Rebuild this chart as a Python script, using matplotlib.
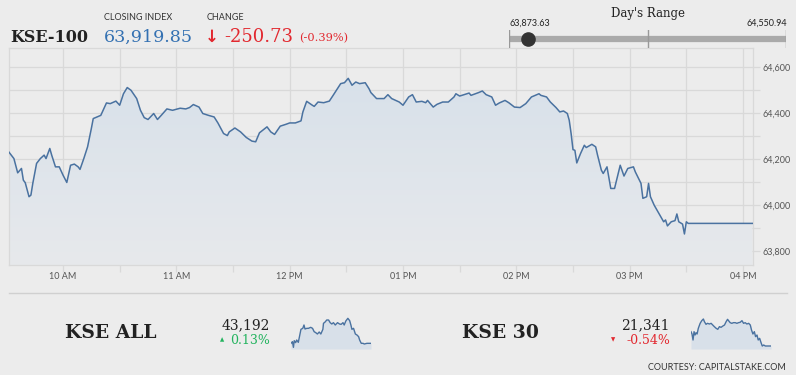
import matplotlib
matplotlib.use('Agg')
import matplotlib.pyplot as plt
from matplotlib.colors import LinearSegmentedColormap
import numpy as np

# KSE-100 intraday (minutes after 09:30, index level)
minutes = [1, 4, 6, 8, 9, 10, 12, 13, 14, 16, 18, 20, 21, 23, 24, 26, 28, 30, 32, 34,
           36, 38, 39, 41, 43, 45, 46, 50, 53, 55, 58, 60, 62, 64, 66, 69, 71, 73, 75, 78,
           80, 82, 85, 88, 92, 95, 97, 99, 102, 104, 107, 110, 112, 115, 117, 118, 121, 124, 127, 130,
           132, 134, 138, 140, 142, 145, 148, 150, 153, 156, 157, 159, 162, 163, 165, 168, 171, 173, 177, 179,
           181, 183, 185, 187, 190, 192, 193, 196, 200, 202, 204, 207, 208, 210, 213, 215, 217, 220, 222, 223,
           226, 228, 231, 234, 237, 238, 240, 245, 246, 250, 252, 254, 257, 259, 261, 264, 266, 269, 272, 275,
           278, 282, 283, 286, 288, 291, 293, 295, 297, 298, 299, 300, 301, 302, 304, 306, 307, 310, 312, 313,
           315, 316, 318, 320, 322, 325, 327, 329, 332, 333, 336, 337, 339, 340, 341, 343, 346, 348, 349, 350,
           352, 354, 355, 356, 358, 359, 360, 361, 395]
index_values = [64234, 64202, 64140, 64159, 64108, 64097, 64036, 64043, 64094, 64181, 64202, 64217, 64202, 64246, 64217, 64166, 64166, 64130, 64098, 64173,
                64178, 64166, 64155, 64202, 64253, 64333, 64376, 64390, 64444, 64441, 64452, 64434, 64484, 64511, 64499, 64463, 64412, 64380, 64372, 64398,
                64372, 64390, 64418, 64412, 64421, 64418, 64424, 64437, 64426, 64398, 64390, 64383, 64357, 64311, 64302, 64318, 64335, 64318, 64294, 64278,
                64275, 64314, 64340, 64318, 64307, 64343, 64351, 64357, 64357, 64366, 64405, 64451, 64434, 64429, 64448, 64445, 64452, 64477, 64528, 64532,
                64551, 64521, 64535, 64528, 64532, 64506, 64489, 64463, 64463, 64480, 64463, 64452, 64448, 64434, 64470, 64480, 64448, 64451, 64445, 64455,
                64426, 64438, 64448, 64448, 64470, 64484, 64474, 64487, 64477, 64489, 64496, 64480, 64470, 64434, 64444, 64455, 64445, 64426, 64424, 64441,
                64470, 64484, 64477, 64470, 64448, 64424, 64405, 64409, 64398, 64369, 64311, 64241, 64238, 64183, 64224, 64260, 64250, 64264, 64253, 64217,
                64152, 64137, 64166, 64072, 64072, 64173, 64126, 64159, 64166, 64144, 64094, 64029, 64036, 64094, 64036, 63999, 63956, 63927, 63935, 63909,
                63927, 63932, 63961, 63927, 63917, 63874, 63927, 63920, 63920]

hour_ticks = [30, 90, 150, 210, 270, 330, 390]
hour_labels = ['10 AM', '11 AM', '12 PM', '01 PM', '02 PM', '03 PM', '04 PM']
level_ticks = [63800, 64000, 64200, 64400, 64600]

closing_index = 63919.85
change = -250.73
change_pct = -0.39
day_low = 63873.63
day_high = 64550.94

# sparklines (minutes after 09:30, relative height)
kse_all_min = [0, 7, 12, 16, 23, 28, 36, 45, 49, 58, 64, 69, 78, 86, 97, 106, 114, 122, 130, 139,
               147, 157, 160, 168, 176, 185, 193, 201, 209, 218, 229, 239, 247, 256, 262, 270, 280, 289, 295, 300,
               308, 317, 325, 333, 338, 346, 355, 361, 374, 394]
kse_all_lvl = [20, 25, 8, 28, 22, 30, 23, 50, 62, 65, 75, 63, 65, 65, 68, 65, 55, 52, 48, 54,
               48, 62, 80, 84, 90, 90, 82, 78, 82, 75, 82, 78, 77, 82, 75, 87, 95, 88, 75, 62,
               65, 48, 45, 40, 30, 20, 20, 18, 20, 20]
kse30_min = [0, 5, 10, 15, 20, 25, 30, 36, 45, 53, 61, 66, 74, 81, 91, 99, 107, 115, 124, 132,
             140, 148, 157, 165, 173, 180, 185, 193, 201, 209, 218, 226, 234, 242, 251, 259, 267, 275, 284, 292,
             298, 305, 312, 318, 325, 331, 338, 345, 351, 358, 366, 383, 394]
kse30_lvl = [55, 48, 30, 55, 45, 52, 48, 65, 80, 88, 93, 85, 77, 80, 78, 80, 75, 70, 65, 62,
             70, 68, 72, 75, 85, 92, 88, 82, 80, 82, 82, 80, 82, 83, 88, 80, 82, 78, 80, 75,
             60, 48, 55, 40, 45, 30, 35, 22, 12, 15, 12, 12, 12]

BG = '#ececec'
GRID = '#d9d9d9'
LINE = '#4a72a0'
TICK = '#555555'
BLUE = '#3471b2'
RED = '#e2282f'
GREEN = '#22b35e'
DARK = '#222222'
SERIF = 'DejaVu Serif'
SANS = 'Lato'

W, H = 796, 375
fig = plt.figure(figsize=(W / 100, H / 100), dpi=100, facecolor=BG)


def px_axes(left, top, right, bottom):
    return fig.add_axes([left / W, 1 - bottom / H, (right - left) / W, (bottom - top) / H])


# overlay for header / footer texts (pixel coordinates)
ov = px_axes(0, 0, W, H)
ov.set_xlim(0, W)
ov.set_ylim(H, 0)
ov.axis('off')

# ---- main chart ----
ax = px_axes(9, 48, 753, 265)
ax.set_facecolor(BG)
ymin, ymax = 63739, 64683
ax.set_xlim(minutes[0] + 0.4, minutes[-1] + 0.3)
ax.set_ylim(ymin, ymax)

fill = ax.fill_between(minutes, index_values, ymin, facecolor='none', edgecolor='none')
grad_cmap = LinearSegmentedColormap.from_list('g', ['#e7e9ec', '#d8e1ea'])
grad = np.linspace(0, 1, 256).reshape(-1, 1)
im = ax.imshow(grad, extent=[minutes[0], minutes[-1], ymin, max(index_values)],
               origin='lower', aspect='auto', cmap=grad_cmap, zorder=1)
im.set_clip_path(fill.get_paths()[0], transform=ax.transData)
ax.plot(minutes, index_values, color=LINE, lw=1.1, zorder=3)

ax.set_xticks(hour_ticks)
ax.set_xticklabels(hour_labels)
ax.set_xticks(list(range(60, 391, 60)), minor=True)
ax.set_yticks(level_ticks)
ax.set_yticklabels([f'{v:,}' for v in level_ticks])
ax.set_yticks(list(range(63900, 64700, 200)), minor=True)
ax.yaxis.tick_right()
ax.grid(True, which='both', color=GRID, lw=0.9, zorder=0)
ax.set_axisbelow(True)
ax.tick_params(axis='both', which='both', color=GRID, length=5, width=0.9,
               labelsize=6.5, labelcolor=TICK)
ax.tick_params(axis='x', which='major', pad=0)
ax.tick_params(axis='y', which='both', pad=2)
for lab in ax.get_xticklabels() + ax.get_yticklabels():
    lab.set_fontfamily(SANS)
for sp in ax.spines.values():
    sp.set_color(GRID)
    sp.set_linewidth(0.9)

# ---- header ----
ov.text(10, 37, 'KSE-100', fontsize=11.5, fontweight='bold', family=SERIF,
        color=DARK, va='center', ha='left')
ov.text(104, 18, 'CLOSING INDEX', fontsize=6.5, family=SANS, color='#333333', va='center')
ov.text(104, 37, f'{closing_index:,.2f}', fontsize=12.6, family=SERIF, color=BLUE, va='center')
ov.text(207, 18, 'CHANGE', fontsize=6.5, family=SANS, color='#333333', va='center')
ov.text(205, 37, '\u2193', fontsize=12, family='DejaVu Sans', fontweight='bold', color=RED, va='center')
ov.text(224, 37, f'{change:.2f}', fontsize=13, family=SERIF, color=RED, va='center')
ov.text(299, 38, f'({change_pct:.2f}%)', fontsize=8.2, family=SERIF, color=RED, va='center')

# day's range
ov.text(648, 13, "Day's Range", fontsize=8.5, family=SERIF, color=DARK, ha='center', va='center')
ov.text(509, 23, f'{day_low:,.2f}', fontsize=6.5, family=SANS, color=DARK, ha='left', va='center')
ov.text(787, 23, f'{day_high:,.2f}', fontsize=6.5, family=SANS, color=DARK, ha='right', va='center')
rng = px_axes(509, 30, 786, 48)
rng.set_xlim(day_low, day_high)
rng.set_ylim(0, 1)
rng.axis('off')
rng.plot([day_low, day_high], [0.5, 0.5], color='#aaaaaa', lw=4.5, solid_capstyle='butt', zorder=1)
mid = (day_low + day_high) / 2
for v in [day_low, mid, day_high]:
    rng.plot([v, v], [0, 1.05], color='#999999', lw=1, zorder=2)
rng.plot([closing_index], [0.5], 'o', ms=9.5, color='#333333', zorder=3, clip_on=False)

# ---- footer ----
ov.plot([9, 787], [293, 293], color='#d0d0d0', lw=1)


def index_block(name, name_x, value, pct, val_right, arrow_x, up, sx, mins, lvls):
    col = GREEN if up else RED
    ov.text(name_x, 333, name, fontsize=13.5, fontweight='bold', family=SERIF,
            color=DARK, ha='left', va='center')
    ov.text(val_right, 325, f'{value:,}', fontsize=10, family=SERIF, color=DARK,
            ha='right', va='center')
    ov.text(val_right, 341, f'{pct:.2f}%', fontsize=9, family=SERIF, color=col,
            ha='right', va='center')
    ov.text(arrow_x, 340, '\u25b2' if up else '\u25bc', fontsize=4, family='DejaVu Sans',
            color=col, ha='center', va='center')
    sp = px_axes(sx, 310, sx + 80, 349)
    sp.set_xlim(mins[0], mins[-1])
    sp.set_ylim(3, 120)
    sp.axis('off')
    sp.fill_between(mins, lvls, 3, color='#d8e0e9', lw=0)
    sp.plot(mins, lvls, color=LINE, lw=1)


index_block('KSE ALL', 65, 43192, 0.13, 270, 222, True, 291, kse_all_min, kse_all_lvl)
index_block('KSE 30', 462, 21341, -0.54, 670, 613, False, 691, kse30_min, kse30_lvl)

ov.text(786, 367, 'COURTESY: CAPITALSTAKE.COM', fontsize=6.5, family=SANS,
        color='#333333', ha='right', va='center')

fig.savefig('out.png', dpi=100, facecolor=BG)
